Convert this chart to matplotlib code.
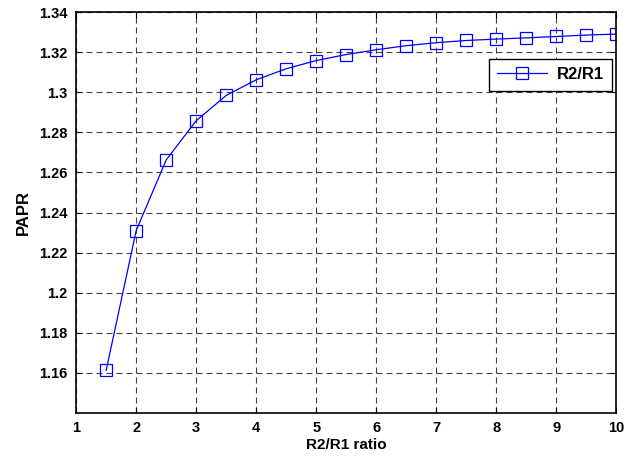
import matplotlib
matplotlib.use("Agg")
import matplotlib.pyplot as plt

# R2/R1 ratio vs PAPR
ratio = [1.5, 2, 2.5, 3, 3.5, 4, 4.5, 5, 5.5, 6, 6.5, 7, 7.5, 8, 8.5, 9, 9.5, 10]
papr = [1.1613, 1.2310, 1.2662, 1.2858, 1.2984, 1.3062, 1.3117, 1.3158, 1.3188,
        1.3212, 1.3232, 1.3247, 1.3258, 1.3265, 1.3271, 1.3278, 1.3285, 1.3290]

xticks = [1, 2, 3, 4, 5, 6, 7, 8, 9, 10]
yticks = [1.16, 1.18, 1.2, 1.22, 1.24, 1.26, 1.28, 1.3, 1.32, 1.34]
ytick_labels = ["1.16", "1.18", "1.2", "1.22", "1.24", "1.26", "1.28", "1.3", "1.32", "1.34"]

plt.rcParams["font.family"] = ["Liberation Sans", "DejaVu Sans"]
plt.rcParams["font.weight"] = "bold"

fig = plt.figure(figsize=(6.4, 4.62), dpi=100)
ax = fig.add_axes([0.119, 0.106, 0.844, 0.868])

ax.plot(ratio, papr, color="#0000ff", linewidth=0.9, marker="s", markersize=8.5,
        markerfacecolor="none", markeredgecolor="#0000ff", markeredgewidth=0.9,
        label="R2/R1")

ax.set_xlim(1, 10)
ax.set_ylim(1.14, 1.34)
ax.set_xticks(xticks)
ax.set_xticklabels([str(t) for t in xticks])
ax.set_yticks(yticks)
ax.set_yticklabels(ytick_labels)
ax.tick_params(direction="in", labelsize=10.5, length=4, width=0.8,
               top=True, right=True, pad=6)
for lab in ax.get_xticklabels() + ax.get_yticklabels():
    lab.set_fontweight("bold")

ax.grid(True, color="#222222", linestyle=(0, (5.4, 3.6)), linewidth=0.8, alpha=0.85)
for s in ax.spines.values():
    s.set_linewidth(1.2)

ax.set_xlabel("R2/R1 ratio", fontsize=11, fontweight="bold", labelpad=2)
ax.set_ylabel("PAPR", fontsize=12, fontweight="bold", labelpad=6)

leg = ax.legend(loc="upper right", bbox_to_anchor=(0.9926, 0.883), borderaxespad=0,
                fancybox=False, edgecolor="black", framealpha=1,
                prop={"size": 12, "weight": "bold"},
                handlelength=3.0, borderpad=0.5, handletextpad=0.6)
leg.get_frame().set_linewidth(1.0)

fig.savefig("out.png", dpi=100)
